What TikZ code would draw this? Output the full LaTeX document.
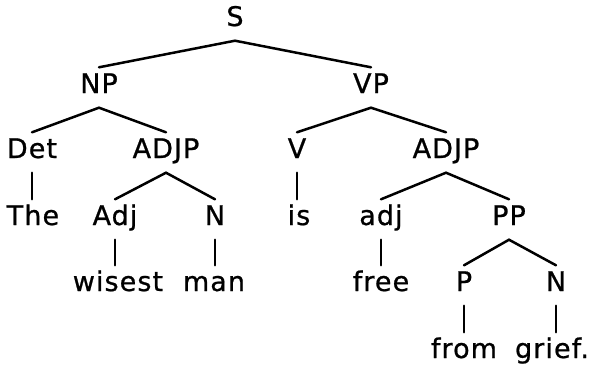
\documentclass[tikz,border=0pt]{standalone}
\usepackage{fontspec}
\setmainfont{DejaVu Sans}[LetterSpace=4,FakeBold=0.8]
\begin{document}
\begin{tikzpicture}[x=1pt,y=-1pt,
  cat/.style={anchor=base,font=\fontsize{27}{32}\selectfont,
    text height=19pt,text depth=8pt,inner ysep=6.5pt,inner xsep=0pt},
  branch/.style={line width=2.5pt,line cap=round}]
\useasboundingbox (0,0) rectangle (596,367);
% row baselines: 26, 93, 158, 225, 291, 358
\node[cat] (S) at (235,26) {S};
\node[cat] (NP) at (99,93) {NP};
\node[cat] (VP) at (371,93) {VP};
\node[cat] (Det) at (32,158) {Det};
\node[cat] (ADJPa) at (166,158) {ADJP};
\node[cat] (V) at (297,158) {V};
\node[cat] (ADJPb) at (446,158) {ADJP};
\node[cat] (The) at (33,225) {The};
\node[cat] (Adj) at (115,225) {Adj};
\node[cat] (Na) at (215,225) {N};
\node[cat] (is) at (299,225) {is};
\node[cat] (adj) at (381,225) {adj};
\node[cat] (PP) at (509,225) {PP};
\node[cat] (wisest) at (118,291) {wisest};
\node[cat] (man) at (214,291) {man};
\node[cat] (free) at (381,291) {free};
\node[cat] (P) at (464,291) {P};
\node[cat] (Nb) at (556,291) {N};
\node[cat] (from) at (464,358) {from};
\node[cat] (grief) at (552,358) {grief.};
% branches
\draw[branch] (NP.north) -- (S.south) -- (VP.north);
\draw[branch] (Det.north) -- (NP.south) -- (ADJPa.north);
\draw[branch] (V.north) -- (VP.south) -- (ADJPb.north);
\draw[branch] (Adj.north) -- (ADJPa.south) -- (Na.north);
\draw[branch] (adj.north) -- (ADJPb.south) -- (PP.north);
\draw[branch] (P.north) -- (PP.south) -- (Nb.north);
% unary branches drop straight down from the parent
\draw[branch] (Det.south) -- (Det.south |- The.north);
\draw[branch] (V.south) -- (V.south |- is.north);
\draw[branch] (Adj.south) -- (Adj.south |- wisest.north);
\draw[branch] (Na.south) -- (Na.south |- man.north);
\draw[branch] (adj.south) -- (adj.south |- free.north);
\draw[branch] (P.south) -- (P.south |- from.north);
\draw[branch] (Nb.south) -- (Nb.south |- grief.north);
\end{tikzpicture}
\end{document}
